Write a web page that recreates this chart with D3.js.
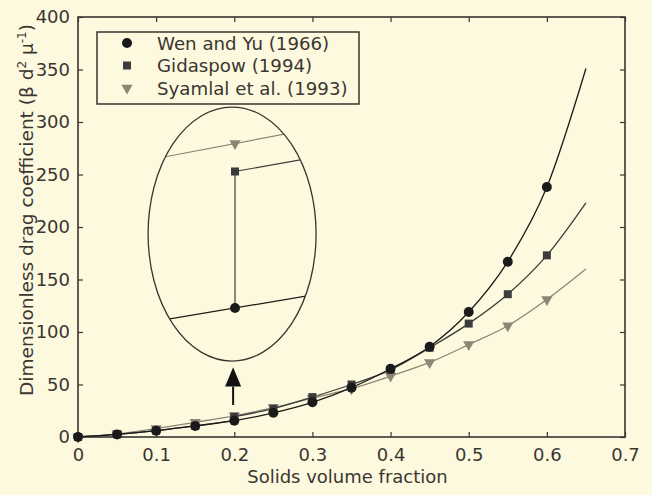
<!DOCTYPE html>
<html>
<head>
<meta charset="utf-8">
<script src="https://cdn.jsdelivr.net/npm/d3@7"></script>
<style>
  body { margin: 0; background: #fdf9de; }
  svg { display: block; }
  text { font-family: "DejaVu Sans", sans-serif; fill: #3a3632; }
</style>
</head>
<body>
<svg id="board"></svg>
<script>
// values
let xValues = [0, 0.05, 0.1, 0.15, 0.2, 0.25, 0.3, 0.35, 0.4, 0.45, 0.5, 0.55, 0.6]
let xEnd = 0.65
let wenYu = [0, 2.5, 6, 10.5, 15.5, 23, 33, 47, 65, 86, 119, 167, 238]
let wenYuEnd = 351
// Gidaspow follows Wen & Yu up to 0.2, then jumps to the Ergun branch
let gidLowX = [0, 0.05, 0.1, 0.15, 0.2]
let gidLow = [0, 2.5, 6, 10.5, 15.5]
let gidHighX = [0.2, 0.25, 0.3, 0.35, 0.4, 0.45, 0.5, 0.55, 0.6]
let gidHigh = [19.4, 27, 38, 50, 64, 85, 108, 136, 173]
let gidEnd = 223
let syamlal = [0, 3, 8, 14, 20.2, 28, 37, 46, 58, 71, 88, 106, 131]
let syamlalEnd = 160

let xTicks = [0, 0.1, 0.2, 0.3, 0.4, 0.5, 0.6, 0.7]
let yTicks = [0, 50, 100, 150, 200, 250, 300, 350, 400]

let legendNames = ['Wen and Yu (1966)', 'Gidaspow (1994)', 'Syamlal et al. (1993)']

// zoomed inset around x = 0.2
let insetX = [0.196, 0.2, 0.204]
let insetWen = [15.04, 15.5, 15.96]
let insetSyamlal = [19.68, 20.2, 20.72]
let insetGidX = [0.2, 0.204]
let insetGid = [19.4, 19.89]

let width = 652
let height = 495
let padLeft = 78, padRight = 625, padTop = 17, padBottom = 437

let colWen = '#1a1a1a'
let colGid = '#3c3c3c'
let colSyam = '#8f8576'
let frameCol = '#3a3530'

let board = d3.select('#board').attr('width', width).attr('height', height)

let xScale = d3.scaleLinear().domain([0, 0.7]).range([padLeft, padRight])
let yScale = d3.scaleLinear().domain([0, 400]).range([padBottom, padTop])

// axes, matlab style inward ticks on all four sides
let fmt = d => d === 0 ? '0' : d3.format('.1f')(d)
let xAxis = d3.axisBottom(xScale).tickValues(xTicks).tickFormat(fmt).tickSizeInner(-5).tickSizeOuter(0).tickPadding(11)
let xTop = d3.axisTop(xScale).tickValues(xTicks).tickFormat('').tickSizeInner(-5).tickSizeOuter(0)
let yAxis = d3.axisLeft(yScale).tickValues(yTicks).tickFormat(d3.format('d')).tickSizeInner(-5).tickSizeOuter(0).tickPadding(8)
let yRight = d3.axisRight(yScale).tickValues(yTicks).tickFormat('').tickSizeInner(-5).tickSizeOuter(0)

let axes = [
  [xAxis, 'translate(0,' + padBottom + ')'],
  [xTop, 'translate(0,' + padTop + ')'],
  [yAxis, 'translate(' + padLeft + ',0)'],
  [yRight, 'translate(' + padRight + ',0)']
]
axes.forEach(a => {
  let g = board.append('g').attr('transform', a[1]).call(a[0])
  g.select('.domain').remove()
  g.selectAll('line').attr('stroke', frameCol).attr('stroke-width', 1.2)
  g.selectAll('text').style('font-size', '18px').attr('fill', '#3a3632')
})

board.append('rect')
  .attr('x', padLeft).attr('y', padTop)
  .attr('width', padRight - padLeft).attr('height', padBottom - padTop)
  .attr('fill', 'none').attr('stroke', frameCol).attr('stroke-width', 1.6)

// axis titles
board.append('text')
  .attr('x', (padLeft + padRight) / 2 - 4).attr('y', 483)
  .attr('text-anchor', 'middle')
  .style('font-size', '18px')
  .text('Solids volume fraction')

let yl = board.append('text')
  .attr('transform', 'translate(33,' + 210 + ') rotate(-90)')
  .attr('text-anchor', 'middle')
  .style('font-size', '18.5px')
yl.append('tspan').text('Dimensionless drag coefficient (\u03b2 d')
yl.append('tspan').attr('dy', -7).style('font-size', '12px').text('2')
yl.append('tspan').attr('dy', 7).text(' \u03bc')
yl.append('tspan').attr('dy', -7).style('font-size', '12px').text('-1')
yl.append('tspan').attr('dy', 7).text(')')

// curves
let line = d3.line().x(d => xScale(d[0])).y(d => yScale(d[1])).curve(d3.curveMonotoneX)

let wenPts = xValues.map((x, i) => [x, wenYu[i]]).concat([[xEnd, wenYuEnd]])
let syamPts = xValues.map((x, i) => [x, syamlal[i]]).concat([[xEnd, syamlalEnd]])
let gidLowPts = gidLowX.map((x, i) => [x, gidLow[i]])
let gidHighPts = gidHighX.map((x, i) => [x, gidHigh[i]]).concat([[xEnd, gidEnd]])

board.append('path').attr('d', line(syamPts)).attr('fill', 'none').attr('stroke', colSyam).attr('stroke-width', 1.3)
board.append('path').attr('d', line(gidLowPts)).attr('fill', 'none').attr('stroke', colGid).attr('stroke-width', 1.3)
board.append('path').attr('d', line(gidHighPts)).attr('fill', 'none').attr('stroke', colGid).attr('stroke-width', 1.3)
board.append('line')
  .attr('x1', xScale(0.2)).attr('x2', xScale(0.2))
  .attr('y1', yScale(gidLow[4])).attr('y2', yScale(gidHigh[0]))
  .attr('stroke', colGid).attr('stroke-width', 1.3)
board.append('path').attr('d', line(wenPts)).attr('fill', 'none').attr('stroke', colWen).attr('stroke-width', 1.3)

// markers
let tri = d3.symbol().type(d3.symbolTriangle).size(55)
let sq = d3.symbol().type(d3.symbolSquare).size(64)
let circ = d3.symbol().type(d3.symbolCircle).size(78)

let drawMarks = (pts, sym, col, rot) => {
  board.append('g').selectAll('path')
    .data(pts)
    .enter()
    .append('path')
    .attr('d', sym)
    .attr('fill', col)
    .attr('transform', d => 'translate(' + xScale(d[0]) + ',' + yScale(d[1]) + ')' + (rot ? ' rotate(180)' : ''))
}
drawMarks(xValues.map((x, i) => [x, syamlal[i]]), tri, colSyam, true)
drawMarks(gidLowPts.slice(0, 4).concat(gidHighX.map((x, i) => [x, gidHigh[i]])), sq, colGid, false)
drawMarks(xValues.map((x, i) => [x, wenYu[i]]), circ, colWen, false)

// legend
let lg = board.append('g')
lg.append('rect').attr('x', 97).attr('y', 32).attr('width', 262).attr('height', 72)
  .attr('fill', '#fdf9de').attr('stroke', frameCol).attr('stroke-width', 1.5)
let legSyms = [circ, sq, tri]
let legCols = [colWen, colGid, colSyam]
legendNames.forEach((name, i) => {
  let y = 43 + i * 22.5
  lg.append('path').attr('d', legSyms[i]).attr('fill', legCols[i])
    .attr('transform', 'translate(127,' + y + ')' + (i === 2 ? ' rotate(180)' : ''))
  lg.append('text').attr('x', 157).attr('y', y + 6.5).style('font-size', '18.2px').text(name)
})

// zoom inset
let ix = d3.scaleLinear().domain([0.196, 0.204]).range([139, 331])
let iy = d3.scaleLinear().domain([14, 22]).range([360.5, 80.5])
let cx = xScale(0.1972), cy = yScale(193.3)
let rx = 84, ry = 127

board.append('clipPath').attr('id', 'ell')
  .append('ellipse').attr('cx', cx).attr('cy', cy).attr('rx', rx).attr('ry', ry)

let inset = board.append('g').attr('clip-path', 'url(#ell)')
let iline = d3.line().x(d => ix(d[0])).y(d => iy(d[1]))
let wide = [0.19, 0.21]
let extend = (xs, ys) => {
  let s = (ys[ys.length - 1] - ys[0]) / (xs[xs.length - 1] - xs[0])
  return [[wide[0], ys[0] + s * (wide[0] - xs[0])], [wide[1], ys[0] + s * (wide[1] - xs[0])]]
}
let gs = (insetGid[1] - insetGid[0]) / (insetGidX[1] - insetGidX[0])
inset.append('path').attr('d', iline(extend(insetX, insetSyamlal))).attr('stroke', colSyam).attr('stroke-width', 1.2).attr('fill', 'none')
inset.append('path').attr('d', iline(extend(insetX, insetWen))).attr('stroke', colWen).attr('stroke-width', 1.2).attr('fill', 'none')
inset.append('path').attr('d', iline([[0.2, insetWen[1]], [0.2, insetGid[0]], [wide[1], insetGid[0] + gs * (wide[1] - 0.2)]]))
  .attr('stroke', colGid).attr('stroke-width', 1.2).attr('fill', 'none')

inset.append('path').attr('d', tri).attr('fill', colSyam)
  .attr('transform', 'translate(' + ix(0.2) + ',' + iy(insetSyamlal[1]) + ') rotate(180)')
inset.append('path').attr('d', sq).attr('fill', colGid)
  .attr('transform', 'translate(' + ix(0.2) + ',' + iy(insetGid[0]) + ')')
inset.append('path').attr('d', circ).attr('fill', colWen)
  .attr('transform', 'translate(' + ix(0.2) + ',' + iy(insetWen[1]) + ')')

board.append('ellipse').attr('cx', cx).attr('cy', cy).attr('rx', rx).attr('ry', ry)
  .attr('fill', 'none').attr('stroke', frameCol).attr('stroke-width', 1.3)

// arrow pointing up at x = 0.2
let ax = xScale(0.1985)
board.append('line').attr('x1', ax).attr('x2', ax)
  .attr('y1', yScale(30.5)).attr('y2', yScale(48))
  .attr('stroke', '#111').attr('stroke-width', 2)
board.append('path')
  .attr('d', 'M' + (ax - 8) + ',' + yScale(48) + 'L' + (ax + 8) + ',' + yScale(48) + 'L' + ax + ',' + yScale(66.5) + 'Z')
  .attr('fill', '#111')
</script>
</body>
</html>
